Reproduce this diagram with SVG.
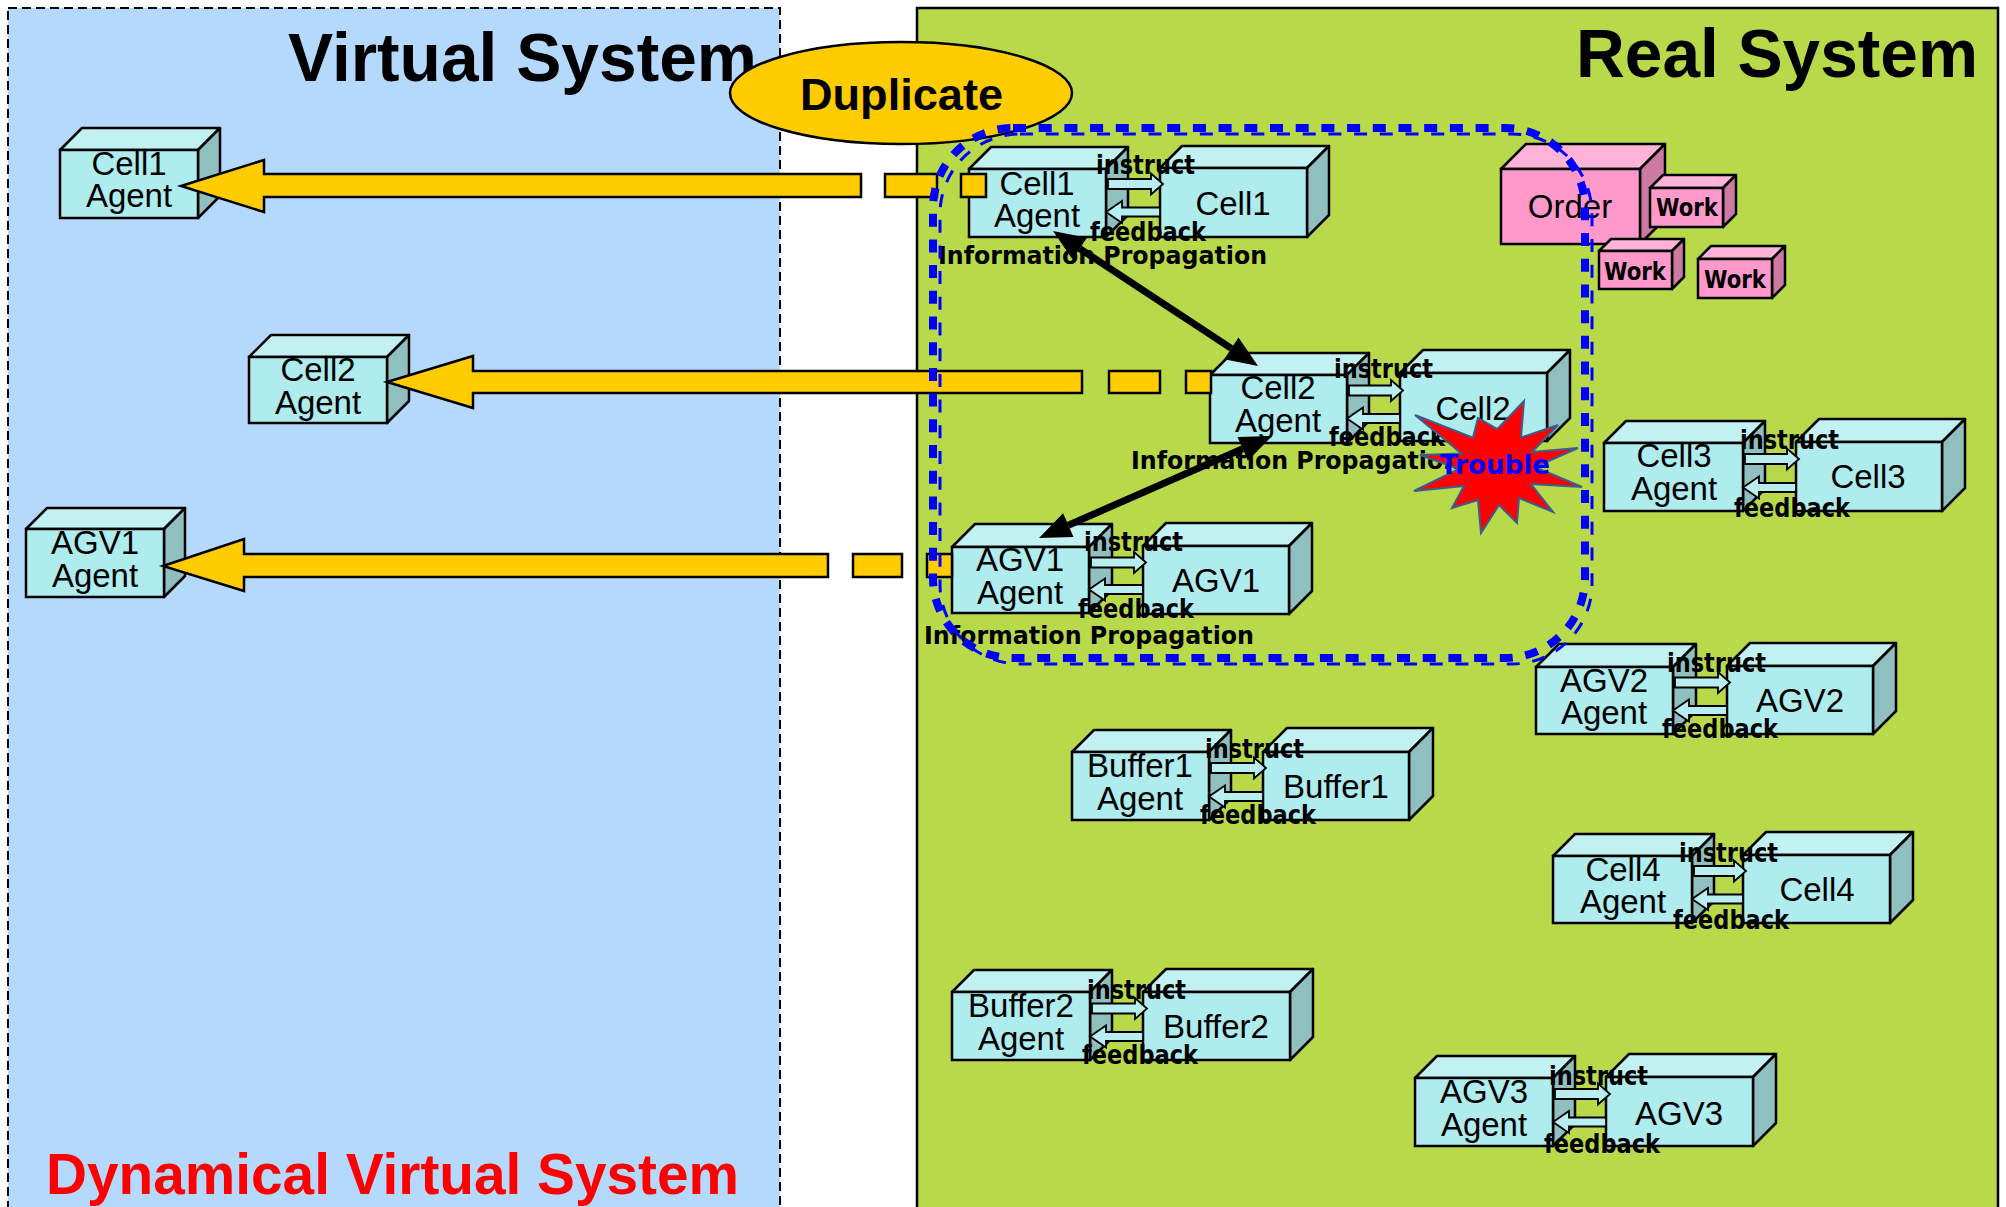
<svg xmlns="http://www.w3.org/2000/svg" width="2006" height="1207" viewBox="0 0 2006 1207">
  <style>
    .fr { fill: #afecee; stroke: #000; stroke-width: 2.5; }
    .tp { fill: #c2f1f1; stroke: #000; stroke-width: 2.5; stroke-linejoin: round; }
    .sd { fill: #8fbfbf; stroke: #000; stroke-width: 2.5; stroke-linejoin: round; }
    .pfr { fill: #ff99cc; stroke: #000; stroke-width: 2.5; }
    .ptp { fill: #ffb3d9; stroke: #000; stroke-width: 2.5; stroke-linejoin: round; }
    .psd { fill: #cc7aa3; stroke: #000; stroke-width: 2.5; stroke-linejoin: round; }
    .nm { font-family: "Liberation Sans", Arial, sans-serif; font-size: 33px; fill: #000; text-anchor: middle; }
    .sm { font-family: "DejaVu Sans", "Liberation Sans", sans-serif; font-weight: bold; font-size: 26px; fill: #000; }
    .ip { font-family: "DejaVu Sans", "Liberation Sans", sans-serif; font-weight: bold; font-size: 25px; fill: #000; }
    .wk { font-family: "DejaVu Sans", "Liberation Sans", sans-serif; font-weight: bold; font-size: 24px; fill: #000; text-anchor: middle; }
    .ttl { font-family: "Liberation Sans", Arial, sans-serif; font-weight: bold; }
    .yel { fill: #ffcc00; stroke: #000; stroke-width: 2.5; stroke-linejoin: miter; }
    .ia { fill: #b8eef0; stroke: #000; stroke-width: 1.8; stroke-linejoin: miter; }
    .blk { fill: #000; stroke: none; }
  </style>

  <!-- canvas -->
  <rect x="0" y="0" width="2006" height="1207" fill="#ffffff"/>

  <!-- panels -->
  <g id="virtual-panel">
    <rect x="8" y="8" width="772" height="1215" fill="#b4d9fc" stroke="#000" stroke-width="2" stroke-dasharray="9 5"/>
    <text class="ttl" x="288" y="81" font-size="68" textLength="469" lengthAdjust="spacingAndGlyphs">Virtual System</text>
    <text class="ttl" x="46" y="1194" font-size="57" fill="#ff0000" textLength="693" lengthAdjust="spacingAndGlyphs">Dynamical Virtual System</text>
  </g>
  <g id="real-panel">
    <rect x="917" y="8" width="1081" height="1215" fill="#b8d94a" stroke="#000" stroke-width="2.5"/>
    <text class="ttl" x="1576" y="77" font-size="68" textLength="402" lengthAdjust="spacingAndGlyphs">Real System</text>
  </g>

  <!-- virtual agents -->
  <g id="v-cell1-agent">
    <polygon class="tp" points="60,150 82,128 220,128 198,150"/>
    <polygon class="sd" points="198,150 220,128 220,196 198,218"/>
    <rect class="fr" x="60" y="150" width="138" height="68"/>
    <text class="nm" x="129" y="175">Cell1</text>
    <text class="nm" x="129" y="207">Agent</text>
  </g>
  <g id="v-cell2-agent">
    <polygon class="tp" points="249,357 271,335 409,335 387,357"/>
    <polygon class="sd" points="387,357 409,335 409,401 387,423"/>
    <rect class="fr" x="249" y="357" width="138" height="66"/>
    <text class="nm" x="318" y="381">Cell2</text>
    <text class="nm" x="318" y="414">Agent</text>
  </g>
  <g id="v-agv1-agent">
    <polygon class="tp" points="26,529 47,508 185,508 164,529"/>
    <polygon class="sd" points="164,529 185,508 185,576 164,597"/>
    <rect class="fr" x="26" y="529" width="138" height="68"/>
    <text class="nm" x="95" y="554">AGV1</text>
    <text class="nm" x="95" y="587">Agent</text>
  </g>

  <!-- duplicate label -->
  <g id="duplicate">
    <ellipse cx="901" cy="93" rx="171" ry="51" fill="#ffcc00" stroke="#000" stroke-width="2.5"/>
    <text class="ttl" x="800" y="110" font-size="44" textLength="203" lengthAdjust="spacingAndGlyphs">Duplicate</text>
  </g>

  <!-- real system nodes -->
  <g id="cell1-agent">
    <polygon class="tp" points="969,169 991,147 1128,147 1106,169"/>
    <polygon class="sd" points="1106,169 1128,147 1128,215 1106,237"/>
    <rect class="fr" x="969" y="169" width="137" height="68"/>
    <text class="nm" x="1037" y="195">Cell1</text>
    <text class="nm" x="1037" y="227">Agent</text>
  </g>
  <g id="cell1">
    <polygon class="tp" points="1160,168 1182,146 1329,146 1307,168"/>
    <polygon class="sd" points="1307,168 1329,146 1329,215 1307,237"/>
    <rect class="fr" x="1160" y="168" width="147" height="69"/>
    <text class="nm" x="1233" y="215">Cell1</text>
  </g>
  <g id="cell2-agent">
    <polygon class="tp" points="1210,375 1232,353 1369,353 1347,375"/>
    <polygon class="sd" points="1347,375 1369,353 1369,421 1347,443"/>
    <rect class="fr" x="1210" y="375" width="137" height="68"/>
    <text class="nm" x="1278" y="399">Cell2</text>
    <text class="nm" x="1278" y="432">Agent</text>
  </g>
  <g id="cell2">
    <polygon class="tp" points="1400,373 1423,350 1570,350 1547,373"/>
    <polygon class="sd" points="1547,373 1570,350 1570,418 1547,441"/>
    <rect class="fr" x="1400" y="373" width="147" height="68"/>
    <text class="nm" x="1473" y="420">Cell2</text>
  </g>
  <g id="agv1-agent">
    <polygon class="tp" points="952,547 975,524 1112,524 1089,547"/>
    <polygon class="sd" points="1089,547 1112,524 1112,590 1089,613"/>
    <rect class="fr" x="952" y="547" width="137" height="66"/>
    <text class="nm" x="1020" y="571">AGV1</text>
    <text class="nm" x="1020" y="604">Agent</text>
  </g>
  <g id="agv1">
    <polygon class="tp" points="1143,546 1166,523 1312,523 1289,546"/>
    <polygon class="sd" points="1289,546 1312,523 1312,591 1289,614"/>
    <rect class="fr" x="1143" y="546" width="146" height="68"/>
    <text class="nm" x="1216" y="592">AGV1</text>
  </g>
  <g id="order">
    <polygon class="ptp" points="1501,169 1526,144 1665,144 1640,169"/>
    <polygon class="psd" points="1640,169 1665,144 1665,219 1640,244"/>
    <rect class="pfr" x="1501" y="169" width="139" height="75"/>
    <text class="nm" x="1570" y="218">Order</text>
  </g>
  <g id="work1">
    <polygon class="ptp" points="1650,188 1663,175 1736,175 1723,188"/>
    <polygon class="psd" points="1723,188 1736,175 1736,214 1723,227"/>
    <rect class="pfr" x="1650" y="188" width="73" height="39"/>
    <text class="wk" x="1687" y="216" textLength="62" lengthAdjust="spacingAndGlyphs">Work</text>
  </g>
  <g id="work2">
    <polygon class="ptp" points="1599,251 1611,239 1684,239 1672,251"/>
    <polygon class="psd" points="1672,251 1684,239 1684,277 1672,289"/>
    <rect class="pfr" x="1599" y="251" width="73" height="38"/>
    <text class="wk" x="1635" y="280" textLength="62" lengthAdjust="spacingAndGlyphs">Work</text>
  </g>
  <g id="work3">
    <polygon class="ptp" points="1698,259 1711,246 1785,246 1772,259"/>
    <polygon class="psd" points="1772,259 1785,246 1785,285 1772,298"/>
    <rect class="pfr" x="1698" y="259" width="74" height="39"/>
    <text class="wk" x="1735" y="288" textLength="62" lengthAdjust="spacingAndGlyphs">Work</text>
  </g>
  <g id="cell3-agent">
    <polygon class="tp" points="1604,443 1626,421 1765,421 1743,443"/>
    <polygon class="sd" points="1743,443 1765,421 1765,489 1743,511"/>
    <rect class="fr" x="1604" y="443" width="139" height="68"/>
    <text class="nm" x="1674" y="467">Cell3</text>
    <text class="nm" x="1674" y="500">Agent</text>
  </g>
  <g id="cell3">
    <polygon class="tp" points="1796,442 1819,419 1965,419 1942,442"/>
    <polygon class="sd" points="1942,442 1965,419 1965,488 1942,511"/>
    <rect class="fr" x="1796" y="442" width="146" height="69"/>
    <text class="nm" x="1868" y="488">Cell3</text>
  </g>
  <g id="agv2-agent">
    <polygon class="tp" points="1536,667 1559,644 1696,644 1673,667"/>
    <polygon class="sd" points="1673,667 1696,644 1696,711 1673,734"/>
    <rect class="fr" x="1536" y="667" width="137" height="67"/>
    <text class="nm" x="1604" y="692">AGV2</text>
    <text class="nm" x="1604" y="724">Agent</text>
  </g>
  <g id="agv2">
    <polygon class="tp" points="1727,666 1750,643 1896,643 1873,666"/>
    <polygon class="sd" points="1873,666 1896,643 1896,711 1873,734"/>
    <rect class="fr" x="1727" y="666" width="146" height="68"/>
    <text class="nm" x="1800" y="712">AGV2</text>
  </g>
  <g id="buffer1-agent">
    <polygon class="tp" points="1072,752 1094,730 1231,730 1209,752"/>
    <polygon class="sd" points="1209,752 1231,730 1231,798 1209,820"/>
    <rect class="fr" x="1072" y="752" width="137" height="68"/>
    <text class="nm" x="1140" y="777">Buffer1</text>
    <text class="nm" x="1140" y="810">Agent</text>
  </g>
  <g id="buffer1">
    <polygon class="tp" points="1263,752 1287,728 1433,728 1409,752"/>
    <polygon class="sd" points="1409,752 1433,728 1433,796 1409,820"/>
    <rect class="fr" x="1263" y="752" width="146" height="68"/>
    <text class="nm" x="1336" y="798">Buffer1</text>
  </g>
  <g id="cell4-agent">
    <polygon class="tp" points="1553,856 1575,834 1714,834 1692,856"/>
    <polygon class="sd" points="1692,856 1714,834 1714,901 1692,923"/>
    <rect class="fr" x="1553" y="856" width="139" height="67"/>
    <text class="nm" x="1623" y="881">Cell4</text>
    <text class="nm" x="1623" y="913">Agent</text>
  </g>
  <g id="cell4">
    <polygon class="tp" points="1743,855 1766,832 1913,832 1890,855"/>
    <polygon class="sd" points="1890,855 1913,832 1913,900 1890,923"/>
    <rect class="fr" x="1743" y="855" width="147" height="68"/>
    <text class="nm" x="1817" y="901">Cell4</text>
  </g>
  <g id="buffer2-agent">
    <polygon class="tp" points="952,992 974,970 1112,970 1090,992"/>
    <polygon class="sd" points="1090,992 1112,970 1112,1038 1090,1060"/>
    <rect class="fr" x="952" y="992" width="138" height="68"/>
    <text class="nm" x="1021" y="1017">Buffer2</text>
    <text class="nm" x="1021" y="1050">Agent</text>
  </g>
  <g id="buffer2">
    <polygon class="tp" points="1143,992 1166,969 1313,969 1290,992"/>
    <polygon class="sd" points="1290,992 1313,969 1313,1037 1290,1060"/>
    <rect class="fr" x="1143" y="992" width="147" height="68"/>
    <text class="nm" x="1216" y="1038">Buffer2</text>
  </g>
  <g id="agv3-agent">
    <polygon class="tp" points="1415,1078 1437,1056 1575,1056 1553,1078"/>
    <polygon class="sd" points="1553,1078 1575,1056 1575,1124 1553,1146"/>
    <rect class="fr" x="1415" y="1078" width="138" height="68"/>
    <text class="nm" x="1484" y="1103">AGV3</text>
    <text class="nm" x="1484" y="1136">Agent</text>
  </g>
  <g id="agv3">
    <polygon class="tp" points="1606,1077 1629,1054 1776,1054 1753,1077"/>
    <polygon class="sd" points="1753,1077 1776,1054 1776,1123 1753,1146"/>
    <rect class="fr" x="1606" y="1077" width="147" height="69"/>
    <text class="nm" x="1679" y="1125">AGV3</text>
  </g>

  <!-- connectors -->
  <g id="connectors">
    <!-- duplicate arrows: real agents copied into the virtual system -->
    <polygon class="yel" points="181,186 264,160 264,174 861,174 861,197 264,197 264,212"/>
    <rect class="yel" x="885" y="174" width="52" height="23"/>
    <rect class="yel" x="961" y="174" width="25" height="23"/>

    <polygon class="yel" points="387,382 473,356 473,371 1082,371 1082,393 473,393 473,408"/>
    <rect class="yel" x="1109" y="371" width="51" height="22"/>
    <rect class="yel" x="1186" y="371" width="25" height="22"/>

    <polygon class="yel" points="163,566 244,539 244,554 828,554 828,577 244,577 244,591"/>
    <rect class="yel" x="853" y="554" width="49" height="23"/>
    <rect class="yel" x="927" y="554" width="25" height="23"/>

    <!-- instruct (agent to device) and feedback (device to agent) -->
    <polygon class="ia" points="1108,179 1151,179 1151,173.5 1163,184 1151,194.5 1151,189 1108,189"/>
    <polygon class="ia" points="1106,212 1122,201 1122,207.5 1160,207.5 1160,216.5 1122,216.5 1122,223"/>

    <polygon class="ia" points="1349,385.5 1391,385.5 1391,380 1403,390.5 1391,401 1391,395.5 1349,395.5"/>
    <polygon class="ia" points="1347,418.5 1363,407.5 1363,414 1400,414 1400,423 1363,423 1363,429.5"/>

    <polygon class="ia" points="1091,557.5 1134,557.5 1134,552 1146,562.5 1134,573 1134,567.5 1091,567.5"/>
    <polygon class="ia" points="1089,589.5 1105,578.5 1105,585 1143,585 1143,594 1105,594 1105,600.5"/>

    <polygon class="ia" points="1745,454 1787,454 1787,448.5 1799,459 1787,469.5 1787,464 1745,464"/>
    <polygon class="ia" points="1743,487.5 1759,476.5 1759,483 1796,483 1796,492 1759,492 1759,498.5"/>

    <polygon class="ia" points="1675,677.5 1718,677.5 1718,672 1730,682.5 1718,693 1718,687.5 1675,687.5"/>
    <polygon class="ia" points="1673,710.5 1689,699.5 1689,706 1727,706 1727,715 1689,715 1689,721.5"/>

    <polygon class="ia" points="1211,763 1254,763 1254,757.5 1266,768 1254,778.5 1254,773 1211,773"/>
    <polygon class="ia" points="1209,796.5 1225,785.5 1225,792 1263,792 1263,801 1225,801 1225,807.5"/>

    <polygon class="ia" points="1694,866 1734,866 1734,860.5 1746,871 1734,881.5 1734,876 1694,876"/>
    <polygon class="ia" points="1692,899 1708,888 1708,894.5 1743,894.5 1743,903.5 1708,903.5 1708,910"/>

    <polygon class="ia" points="1092,1003.5 1135,1003.5 1135,998 1147,1008.5 1135,1019 1135,1013.5 1092,1013.5"/>
    <polygon class="ia" points="1090,1036.5 1106,1025.5 1106,1032 1143,1032 1143,1041 1106,1041 1106,1047.5"/>

    <polygon class="ia" points="1555,1089 1598,1089 1598,1083.5 1610,1094 1598,1104.5 1598,1099 1555,1099"/>
    <polygon class="ia" points="1553,1122 1569,1111 1569,1117.5 1606,1117.5 1606,1126.5 1569,1126.5 1569,1133"/>
  </g>

  <!-- link labels -->
  <g id="link-labels">
    <text class="sm" x="1096" y="174" textLength="99" lengthAdjust="spacingAndGlyphs">instruct</text>
    <text class="sm" x="1090" y="241" textLength="116" lengthAdjust="spacingAndGlyphs">feedback</text>
    <text class="ip" x="938" y="264" textLength="329" lengthAdjust="spacingAndGlyphs">Information Propagation</text>

    <text class="sm" x="1334" y="378" textLength="99" lengthAdjust="spacingAndGlyphs">instruct</text>
    <text class="sm" x="1329" y="446" textLength="116" lengthAdjust="spacingAndGlyphs">feedback</text>
    <text class="ip" x="1131" y="469" textLength="329" lengthAdjust="spacingAndGlyphs">Information Propagation</text>

    <text class="sm" x="1084" y="551" textLength="99" lengthAdjust="spacingAndGlyphs">instruct</text>
    <text class="sm" x="1078" y="618" textLength="116" lengthAdjust="spacingAndGlyphs">feedback</text>
    <text class="ip" x="924" y="644" textLength="330" lengthAdjust="spacingAndGlyphs">Information Propagation</text>

    <text class="sm" x="1740" y="449" textLength="99" lengthAdjust="spacingAndGlyphs">instruct</text>
    <text class="sm" x="1734" y="517" textLength="116" lengthAdjust="spacingAndGlyphs">feedback</text>

    <text class="sm" x="1667" y="672" textLength="99" lengthAdjust="spacingAndGlyphs">instruct</text>
    <text class="sm" x="1662" y="738" textLength="116" lengthAdjust="spacingAndGlyphs">feedback</text>

    <text class="sm" x="1205" y="758" textLength="99" lengthAdjust="spacingAndGlyphs">instruct</text>
    <text class="sm" x="1200" y="824" textLength="116" lengthAdjust="spacingAndGlyphs">feedback</text>

    <text class="sm" x="1679" y="862" textLength="99" lengthAdjust="spacingAndGlyphs">instruct</text>
    <text class="sm" x="1673" y="929" textLength="116" lengthAdjust="spacingAndGlyphs">feedback</text>

    <text class="sm" x="1087" y="999" textLength="99" lengthAdjust="spacingAndGlyphs">instruct</text>
    <text class="sm" x="1082" y="1064" textLength="116" lengthAdjust="spacingAndGlyphs">feedback</text>

    <text class="sm" x="1549" y="1085" textLength="99" lengthAdjust="spacingAndGlyphs">instruct</text>
    <text class="sm" x="1544" y="1153" textLength="116" lengthAdjust="spacingAndGlyphs">feedback</text>
  </g>

  <!-- information propagation links between agents -->
  <g id="propagation-links">
    <line x1="1079.7" y1="248.6" x2="1231.3" y2="348.4" stroke="#000" stroke-width="7"/>
    <polygon class="blk" points="1053,231 1086.9,237.7 1072.6,259.5"/>
    <polygon class="blk" points="1258,366 1224.2,359.3 1238.5,337.5"/>
    <line x1="1242.7" y1="448.8" x2="1068.3" y2="525.2" stroke="#000" stroke-width="7"/>
    <polygon class="blk" points="1272,436 1237.5,436.9 1247.9,460.7"/>
    <polygon class="blk" points="1039,538 1063.1,513.3 1073.5,537.1"/>
  </g>

  <!-- trouble burst -->
  <g id="trouble">
    <polygon points="1524,401 1521,437.5 1558,425 1532,452 1578,448 1535,467 1582,487 1531,484 1553,512 1519,498 1517,523 1499,505 1481,533 1478,500 1452,508 1464,486 1414,491 1459,469 1420,455 1461.5,453.6 1415,415 1473,437.6 1478,418 1497.4,429" fill="#ff0000" stroke="#3a5f8f" stroke-width="2" stroke-linejoin="miter"/>
    <text x="1440" y="474" font-family="DejaVu Sans, Liberation Sans, sans-serif" font-weight="bold" font-size="27" fill="#0000ff" textLength="110" lengthAdjust="spacingAndGlyphs">Trouble</text>
  </g>

  <!-- affected region -->
  <g id="affected-region" fill="none" stroke="#0000ff">
    <rect x="933" y="128" width="652" height="530" rx="80" ry="80" stroke-width="8" stroke-dasharray="13 12.7"/>
    <rect x="940" y="134" width="652" height="530" rx="80" ry="80" stroke-width="3" stroke-dasharray="13 12.7"/>
  </g>
</svg>
